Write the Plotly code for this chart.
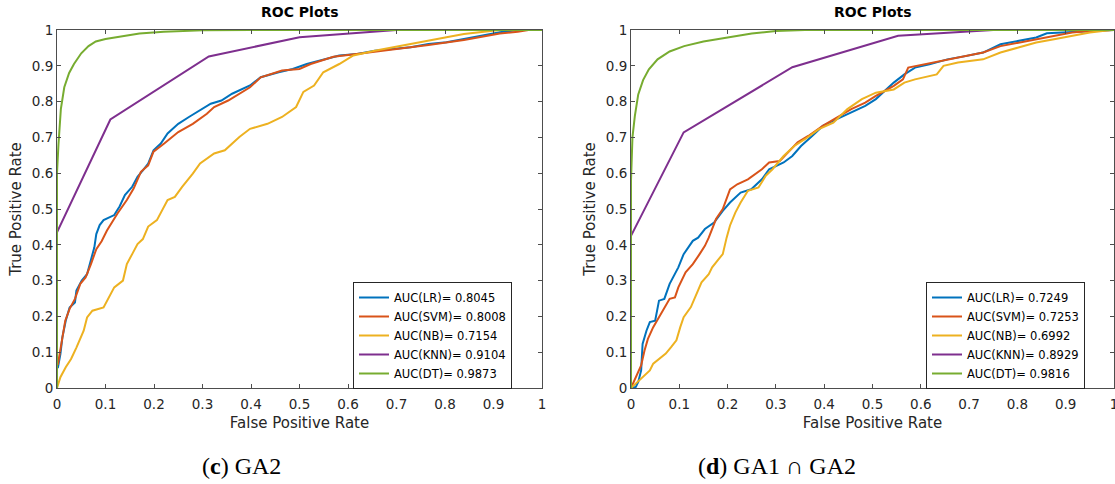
import plotly.graph_objects as go

# ---------------- data: (c) GA2 ----------------
c_lr_fpr = [0, 0, 0.002, 0.007, 0.011, 0.018, 0.026, 0.037, 0.04, 0.051, 0.062, 0.07, 0.077, 0.081, 0.088, 0.096, 0.118, 0.129, 0.14, 0.155, 0.166, 0.177, 0.188, 0.199, 0.214, 0.228, 0.25, 0.272, 0.295, 0.317, 0.339, 0.361, 0.398, 0.42, 0.457, 0.486, 0.515, 0.545, 0.582, 0.619, 0.655, 0.692, 0.729, 0.766, 0.803, 0.839, 0.876, 0.913, 0.95, 0.972, 1]
c_lr_tpr = [0, 0.058, 0.058, 0.095, 0.141, 0.188, 0.225, 0.239, 0.272, 0.3, 0.318, 0.355, 0.393, 0.43, 0.455, 0.469, 0.483, 0.507, 0.539, 0.562, 0.59, 0.608, 0.627, 0.664, 0.683, 0.711, 0.738, 0.757, 0.776, 0.794, 0.803, 0.822, 0.845, 0.868, 0.882, 0.891, 0.905, 0.915, 0.929, 0.933, 0.942, 0.947, 0.952, 0.961, 0.966, 0.975, 0.984, 0.994, 1.0, 1.0, 1.0]
c_svm_fpr = [0, 0, 0.002, 0.011, 0.017, 0.026, 0.037, 0.048, 0.059, 0.07, 0.081, 0.092, 0.103, 0.125, 0.144, 0.158, 0.173, 0.188, 0.199, 0.221, 0.25, 0.28, 0.309, 0.324, 0.353, 0.398, 0.42, 0.464, 0.5, 0.523, 0.57, 0.63, 0.692, 0.766, 0.839, 0.913, 0.95, 0.972, 1]
c_svm_tpr = [0, 0.067, 0.067, 0.141, 0.188, 0.221, 0.249, 0.291, 0.309, 0.346, 0.388, 0.41, 0.44, 0.488, 0.525, 0.557, 0.604, 0.622, 0.66, 0.683, 0.715, 0.738, 0.766, 0.785, 0.803, 0.84, 0.868, 0.887, 0.891, 0.905, 0.925, 0.935, 0.945, 0.958, 0.972, 0.99, 0.995, 1.0, 1.0]
c_nb_fpr = [0, 0.007, 0.018, 0.029, 0.04, 0.048, 0.055, 0.062, 0.073, 0.096, 0.103, 0.118, 0.136, 0.144, 0.155, 0.166, 0.177, 0.188, 0.206, 0.228, 0.243, 0.258, 0.28, 0.295, 0.324, 0.346, 0.376, 0.398, 0.434, 0.464, 0.493, 0.508, 0.53, 0.549, 0.582, 0.611, 0.655, 0.692, 0.729, 0.766, 0.803, 0.839, 0.891, 0.913, 1]
c_nb_tpr = [0, 0.03, 0.058, 0.081, 0.113, 0.137, 0.16, 0.197, 0.216, 0.225, 0.244, 0.281, 0.3, 0.346, 0.374, 0.402, 0.416, 0.451, 0.469, 0.525, 0.534, 0.562, 0.599, 0.627, 0.655, 0.664, 0.701, 0.724, 0.738, 0.757, 0.785, 0.827, 0.845, 0.882, 0.905, 0.929, 0.942, 0.952, 0.961, 0.97, 0.98, 0.989, 0.996, 1.0, 1.0]
c_knn_fpr = [0, 0, 0.11, 0.313, 0.5, 0.7, 1]
c_knn_tpr = [0, 0.435, 0.75, 0.926, 0.98, 1.0, 1.0]
c_dt_fpr = [0, 0, 0.003, 0.008, 0.015, 0.025, 0.035, 0.05, 0.065, 0.08, 0.1, 0.13, 0.17, 0.22, 0.3, 0.4, 1]
c_dt_tpr = [0, 0.6, 0.68, 0.78, 0.84, 0.88, 0.905, 0.935, 0.955, 0.968, 0.975, 0.982, 0.99, 0.995, 0.999, 1.0, 1.0]

# ---------------- data: (d) GA1 ∩ GA2 ----------------
d_lr_fpr = [0, 0.01, 0.015, 0.021, 0.024, 0.032, 0.039, 0.05, 0.058, 0.069, 0.08, 0.091, 0.098, 0.109, 0.12, 0.128, 0.139, 0.153, 0.172, 0.19, 0.205, 0.227, 0.249, 0.271, 0.286, 0.316, 0.334, 0.352, 0.375, 0.397, 0.426, 0.456, 0.485, 0.507, 0.529, 0.544, 0.566, 0.588, 0.618, 0.655, 0.692, 0.729, 0.765, 0.802, 0.839, 0.861, 0.891, 0.935, 0.979, 1]
d_lr_tpr = [0, 0.003, 0.017, 0.049, 0.123, 0.16, 0.184, 0.188, 0.244, 0.249, 0.291, 0.318, 0.337, 0.374, 0.397, 0.411, 0.42, 0.444, 0.462, 0.495, 0.518, 0.546, 0.555, 0.583, 0.611, 0.63, 0.648, 0.676, 0.704, 0.732, 0.751, 0.769, 0.788, 0.807, 0.834, 0.853, 0.876, 0.895, 0.904, 0.918, 0.927, 0.937, 0.96, 0.969, 0.979, 0.991, 0.993, 0.997, 1.0, 1.0]
d_svm_fpr = [0, 0.007, 0.013, 0.021, 0.028, 0.035, 0.046, 0.058, 0.069, 0.08, 0.091, 0.098, 0.113, 0.128, 0.142, 0.153, 0.161, 0.176, 0.19, 0.205, 0.22, 0.242, 0.271, 0.286, 0.308, 0.345, 0.367, 0.397, 0.426, 0.456, 0.485, 0.507, 0.544, 0.563, 0.574, 0.596, 0.625, 0.655, 0.692, 0.729, 0.765, 0.802, 0.839, 0.876, 0.913, 0.95, 0.994, 1]
d_svm_tpr = [0, 0.021, 0.035, 0.063, 0.105, 0.137, 0.17, 0.198, 0.221, 0.249, 0.253, 0.281, 0.323, 0.346, 0.374, 0.397, 0.42, 0.472, 0.5, 0.555, 0.569, 0.583, 0.611, 0.63, 0.634, 0.686, 0.704, 0.732, 0.755, 0.779, 0.797, 0.816, 0.844, 0.862, 0.895, 0.901, 0.909, 0.918, 0.927, 0.937, 0.955, 0.965, 0.974, 0.983, 0.993, 0.997, 1.0, 1.0]
d_nb_fpr = [0, 0.01, 0.021, 0.032, 0.039, 0.046, 0.058, 0.072, 0.083, 0.094, 0.102, 0.109, 0.124, 0.135, 0.146, 0.161, 0.168, 0.179, 0.19, 0.198, 0.205, 0.216, 0.227, 0.242, 0.264, 0.279, 0.293, 0.316, 0.338, 0.36, 0.389, 0.419, 0.448, 0.478, 0.507, 0.544, 0.566, 0.588, 0.618, 0.633, 0.647, 0.677, 0.729, 0.765, 0.802, 0.839, 0.876, 0.913, 0.95, 0.994, 1]
d_nb_tpr = [0, 0.012, 0.026, 0.04, 0.049, 0.068, 0.082, 0.096, 0.114, 0.133, 0.17, 0.198, 0.226, 0.263, 0.295, 0.318, 0.337, 0.356, 0.374, 0.42, 0.454, 0.49, 0.518, 0.551, 0.56, 0.593, 0.611, 0.648, 0.676, 0.695, 0.723, 0.741, 0.779, 0.807, 0.825, 0.834, 0.853, 0.862, 0.872, 0.876, 0.9, 0.909, 0.918, 0.937, 0.951, 0.965, 0.974, 0.983, 0.993, 1.0, 1.0]
d_knn_fpr = [0, 0, 0.109, 0.334, 0.553, 0.75, 1]
d_knn_tpr = [0, 0.425, 0.714, 0.896, 0.984, 1.0, 1.0]
d_dt_fpr = [0, 0, 0.003, 0.008, 0.015, 0.025, 0.037, 0.055, 0.08, 0.11, 0.15, 0.2, 0.25, 0.3, 0.36, 1]
d_dt_tpr = [0, 0.58, 0.7, 0.76, 0.82, 0.86, 0.89, 0.918, 0.94, 0.955, 0.968, 0.98, 0.99, 0.997, 1.0, 1.0]

names = ["LR", "SVM", "NB", "KNN", "DT"]
c_auc = ["0.8045", "0.8008", "0.7154", "0.9104", "0.9873"]
d_auc = ["0.7249", "0.7253", "0.6992", "0.8929", "0.9816"]
colors = ["#0072BD", "#D95319", "#EDB120", "#7E2F8E", "#77AC30"]
x_ticks = [0, 0.1, 0.2, 0.3, 0.4, 0.5, 0.6, 0.7, 0.8, 0.9, 1]

W, H = 1115, 484
FONT = "DejaVu Sans, Liberation Sans, Arial, sans-serif"
AX = "#4d4d4d"
TXT = "#262626"

c_curves = [(c_lr_fpr, c_lr_tpr), (c_svm_fpr, c_svm_tpr), (c_nb_fpr, c_nb_tpr), (c_knn_fpr, c_knn_tpr), (c_dt_fpr, c_dt_tpr)]
d_curves = [(d_lr_fpr, d_lr_tpr), (d_svm_fpr, d_svm_tpr), (d_nb_fpr, d_nb_tpr), (d_knn_fpr, d_knn_tpr), (d_dt_fpr, d_dt_tpr)]

fig = go.Figure()
for i, (fx, fy) in enumerate(c_curves):
    fig.add_trace(go.Scatter(x=fx, y=fy, mode="lines", name=f"AUC({names[i]})= {c_auc[i]}",
                             line=dict(color=colors[i], width=2), xaxis="x", yaxis="y", legend="legend"))
for i, (fx, fy) in enumerate(d_curves):
    fig.add_trace(go.Scatter(x=fx, y=fy, mode="lines", name=f"AUC({names[i]})= {d_auc[i]}",
                             line=dict(color=colors[i], width=2), xaxis="x2", yaxis="y2", legend="legend2"))

def px_x(p):
    return p / W

def px_y(p):
    return 1 - p / H

ydom = [px_y(388), px_y(30)]
axis_common = dict(range=[0, 1], showgrid=False, zeroline=False, showline=True, linecolor=AX, linewidth=1,
                   mirror="ticks", ticks="inside", ticklen=4, tickcolor=AX, tickwidth=1, automargin=False,
                   tickfont=dict(family=FONT, size=13.5, color=TXT), tickvals=x_ticks,
                   ticktext=[f"{v:g}" for v in x_ticks], ticklabeloverflow="allow")
xtitle = dict(text="False Positive Rate", font=dict(family=FONT, size=15, color=TXT), standoff=6)
ytitle = dict(text="True Positive Rate", font=dict(family=FONT, size=15, color=TXT), standoff=6)

legend_common = dict(xanchor="left", yanchor="top", bgcolor="white", bordercolor=TXT, borderwidth=1,
                     font=dict(family=FONT, size=11.5, color="#000"), tracegroupgap=0, itemclick=False)

fig.update_layout(
    width=W, height=H, margin=dict(l=0, r=0, t=0, b=0),
    paper_bgcolor="white", plot_bgcolor="white",
    xaxis=dict(domain=[px_x(57), px_x(542)], anchor="y", title=xtitle, ticklabelstandoff=4, **axis_common),
    yaxis=dict(domain=ydom, anchor="x", title=ytitle, **axis_common),
    xaxis2=dict(domain=[px_x(631), px_x(1114)], anchor="y2", title=xtitle, ticklabelstandoff=4, **axis_common),
    yaxis2=dict(domain=ydom, anchor="x2", title=ytitle, **axis_common),
    legend=dict(x=px_x(353), y=px_y(282), **legend_common),
    legend2=dict(x=px_x(926), y=px_y(282), **legend_common),
    showlegend=True,
)

for cx in [(57 + 542) / 2, (631 + 1114) / 2]:
    fig.add_annotation(text="<b>ROC Plots</b>", x=px_x(cx), y=px_y(12), xref="paper", yref="paper",
                       xanchor="center", yanchor="middle", showarrow=False,
                       font=dict(family=FONT, size=14, color="#000"))

SERIF = "Liberation Serif, Times New Roman, serif"
fig.add_annotation(text="(<b>c</b>) GA2", x=px_x(241), y=px_y(466), xref="paper", yref="paper",
                   xanchor="center", yanchor="middle", showarrow=False,
                   font=dict(family=SERIF, size=24, color="#000"))
fig.add_annotation(text="(<b>d</b>) GA1 ∩ GA2", x=px_x(777), y=px_y(466), xref="paper", yref="paper",
                   xanchor="center", yanchor="middle", showarrow=False,
                   font=dict(family=SERIF, size=24, color="#000"))

fig.write_html("out.html")
